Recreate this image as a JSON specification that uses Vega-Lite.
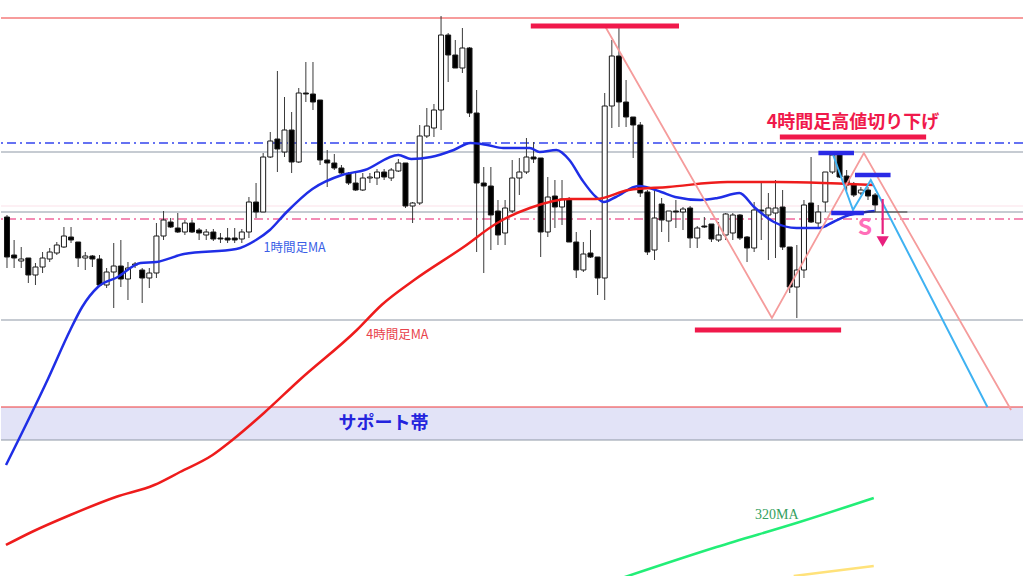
{
  "$schema": "https://vega.github.io/schema/vega-lite/v6.json",
  "width": 1024,
  "height": 576,
  "autosize": {"type": "fit", "contains": "padding"},
  "padding": 0,
  "background": "#ffffff",
  "config": {"view": {"stroke": null}},
  "datasets": {
    "band": [{"p1": 147.93, "p2": 147.60}],
    "hlines": [
      {"kind": "red", "p": 151.82},
      {"kind": "red", "p": 147.93},
      {"kind": "gray", "p": 150.48},
      {"kind": "gray", "p": 149.88},
      {"kind": "gray", "p": 148.80},
      {"kind": "gray", "p": 147.60},
      {"kind": "bluedash", "p": 150.57},
      {"kind": "pinkdash", "p": 149.81},
      {"kind": "faint", "p": 149.94}
    ],
    "candles": [
      {"i":0,"o":149.83,"h":149.85,"l":149.32,"c":149.43},
      {"i":1,"o":149.45,"h":149.60,"l":149.32,"c":149.42},
      {"i":2,"o":149.39,"h":149.53,"l":149.32,"c":149.41},
      {"i":3,"o":149.42,"h":149.42,"l":149.17,"c":149.25},
      {"i":4,"o":149.25,"h":149.37,"l":149.15,"c":149.33},
      {"i":5,"o":149.33,"h":149.48,"l":149.27,"c":149.42},
      {"i":6,"o":149.41,"h":149.52,"l":149.38,"c":149.48},
      {"i":7,"o":149.47,"h":149.58,"l":149.45,"c":149.55},
      {"i":8,"o":149.53,"h":149.73,"l":149.52,"c":149.64},
      {"i":9,"o":149.63,"h":149.73,"l":149.57,"c":149.60},
      {"i":10,"o":149.58,"h":149.58,"l":149.33,"c":149.42},
      {"i":11,"o":149.42,"h":149.48,"l":149.30,"c":149.44},
      {"i":12,"o":149.44,"h":149.45,"l":149.33,"c":149.41},
      {"i":13,"o":149.41,"h":149.45,"l":149.13,"c":149.15},
      {"i":14,"o":149.15,"h":149.32,"l":149.12,"c":149.28},
      {"i":15,"o":149.28,"h":149.57,"l":148.92,"c":149.34},
      {"i":16,"o":149.34,"h":149.60,"l":149.13,"c":149.21},
      {"i":17,"o":149.21,"h":149.38,"l":149.00,"c":149.32},
      {"i":18,"o":149.35,"h":149.38,"l":149.32,"c":149.36},
      {"i":19,"o":149.30,"h":149.32,"l":148.97,"c":149.22},
      {"i":20,"o":149.22,"h":149.32,"l":149.12,"c":149.27},
      {"i":21,"o":149.27,"h":149.77,"l":149.22,"c":149.64},
      {"i":22,"o":149.64,"h":149.89,"l":149.60,"c":149.80},
      {"i":23,"o":149.78,"h":149.82,"l":149.72,"c":149.73},
      {"i":24,"o":149.72,"h":149.87,"l":149.67,"c":149.68},
      {"i":25,"o":149.68,"h":149.80,"l":149.65,"c":149.77},
      {"i":26,"o":149.77,"h":149.80,"l":149.67,"c":149.68},
      {"i":27,"o":149.70,"h":149.72,"l":149.60,"c":149.67},
      {"i":28,"o":149.65,"h":149.71,"l":149.60,"c":149.68},
      {"i":29,"o":149.68,"h":149.71,"l":149.59,"c":149.61},
      {"i":30,"o":149.62,"h":149.67,"l":149.57,"c":149.61},
      {"i":31,"o":149.62,"h":149.72,"l":149.57,"c":149.60},
      {"i":32,"o":149.62,"h":149.72,"l":149.57,"c":149.60},
      {"i":33,"o":149.61,"h":149.71,"l":149.57,"c":149.68},
      {"i":34,"o":149.68,"h":150.03,"l":149.62,"c":149.98},
      {"i":35,"o":149.98,"h":150.17,"l":149.82,"c":149.88},
      {"i":36,"o":149.88,"h":150.47,"l":149.88,"c":150.43},
      {"i":37,"o":150.43,"h":150.68,"l":150.42,"c":150.59},
      {"i":38,"o":150.61,"h":151.29,"l":150.28,"c":150.51},
      {"i":39,"o":150.48,"h":151.03,"l":150.43,"c":150.70},
      {"i":40,"o":150.70,"h":150.88,"l":150.27,"c":150.38},
      {"i":41,"o":150.38,"h":151.12,"l":150.37,"c":151.07},
      {"i":42,"o":151.07,"h":151.38,"l":150.98,"c":151.06},
      {"i":43,"o":151.06,"h":151.38,"l":150.90,"c":150.98},
      {"i":44,"o":151.00,"h":151.00,"l":150.35,"c":150.40},
      {"i":45,"o":150.40,"h":150.50,"l":150.13,"c":150.37},
      {"i":46,"o":150.37,"h":150.46,"l":150.30,"c":150.32},
      {"i":47,"o":150.32,"h":150.35,"l":150.24,"c":150.27},
      {"i":48,"o":150.26,"h":150.28,"l":150.15,"c":150.17},
      {"i":49,"o":150.17,"h":150.27,"l":150.09,"c":150.10},
      {"i":50,"o":150.10,"h":150.27,"l":150.09,"c":150.22},
      {"i":51,"o":150.22,"h":150.27,"l":150.17,"c":150.23},
      {"i":52,"o":150.22,"h":150.31,"l":150.15,"c":150.28},
      {"i":53,"o":150.28,"h":150.31,"l":150.20,"c":150.23},
      {"i":54,"o":150.22,"h":150.32,"l":150.19,"c":150.30},
      {"i":55,"o":150.29,"h":150.41,"l":150.28,"c":150.37},
      {"i":56,"o":150.37,"h":150.37,"l":149.92,"c":149.94},
      {"i":57,"o":149.94,"h":149.98,"l":149.77,"c":149.97},
      {"i":58,"o":149.97,"h":150.75,"l":149.95,"c":150.64},
      {"i":59,"o":150.64,"h":150.92,"l":150.62,"c":150.74},
      {"i":60,"o":150.72,"h":150.96,"l":150.63,"c":150.90},
      {"i":61,"o":150.90,"h":151.84,"l":150.70,"c":151.65},
      {"i":62,"o":151.65,"h":151.67,"l":151.18,"c":151.45},
      {"i":63,"o":151.45,"h":151.60,"l":151.32,"c":151.32},
      {"i":64,"o":151.32,"h":151.72,"l":151.27,"c":151.52},
      {"i":65,"o":151.52,"h":151.53,"l":150.83,"c":150.87},
      {"i":66,"o":150.87,"h":151.10,"l":149.48,"c":150.17},
      {"i":67,"o":150.17,"h":150.33,"l":149.27,"c":150.14},
      {"i":68,"o":150.14,"h":150.33,"l":149.50,"c":149.85},
      {"i":69,"o":149.89,"h":150.00,"l":149.55,"c":149.65},
      {"i":70,"o":149.67,"h":150.00,"l":149.55,"c":149.92},
      {"i":71,"o":149.89,"h":150.40,"l":149.87,"c":150.22},
      {"i":72,"o":150.22,"h":150.42,"l":150.05,"c":150.28},
      {"i":73,"o":150.28,"h":150.62,"l":150.26,"c":150.43},
      {"i":74,"o":150.43,"h":150.58,"l":150.37,"c":150.41},
      {"i":75,"o":150.42,"h":150.42,"l":149.43,"c":149.68},
      {"i":76,"o":149.68,"h":150.23,"l":149.63,"c":150.03},
      {"i":77,"o":150.04,"h":150.20,"l":149.72,"c":149.93},
      {"i":78,"o":149.93,"h":150.20,"l":149.75,"c":150.01},
      {"i":79,"o":150.01,"h":150.03,"l":149.58,"c":149.58},
      {"i":80,"o":149.58,"h":149.68,"l":149.22,"c":149.30},
      {"i":81,"o":149.30,"h":149.58,"l":149.28,"c":149.46},
      {"i":82,"o":149.47,"h":149.70,"l":149.42,"c":149.43},
      {"i":83,"o":149.43,"h":149.43,"l":149.05,"c":149.22},
      {"i":84,"o":149.22,"h":151.07,"l":149.00,"c":150.94},
      {"i":85,"o":150.94,"h":151.60,"l":150.72,"c":151.44},
      {"i":86,"o":151.44,"h":151.73,"l":150.73,"c":150.98},
      {"i":87,"o":150.98,"h":151.20,"l":150.73,"c":150.83},
      {"i":88,"o":150.83,"h":150.83,"l":150.42,"c":150.75},
      {"i":89,"o":150.75,"h":150.78,"l":150.03,"c":150.07},
      {"i":90,"o":150.08,"h":150.10,"l":149.45,"c":149.48},
      {"i":91,"o":149.50,"h":150.12,"l":149.40,"c":149.82},
      {"i":92,"o":149.96,"h":150.02,"l":149.68,"c":149.80},
      {"i":93,"o":149.79,"h":149.89,"l":149.58,"c":149.89},
      {"i":94,"o":149.89,"h":150.00,"l":149.72,"c":149.88},
      {"i":95,"o":149.88,"h":149.93,"l":149.70,"c":149.91},
      {"i":96,"o":149.92,"h":149.94,"l":149.52,"c":149.62},
      {"i":97,"o":149.62,"h":149.74,"l":149.52,"c":149.72},
      {"i":98,"o":149.74,"h":149.83,"l":149.72,"c":149.73},
      {"i":99,"o":149.76,"h":149.76,"l":149.58,"c":149.61},
      {"i":100,"o":149.60,"h":149.78,"l":149.58,"c":149.65},
      {"i":101,"o":149.65,"h":149.87,"l":149.60,"c":149.86},
      {"i":102,"o":149.67,"h":149.87,"l":149.60,"c":149.85},
      {"i":103,"o":149.85,"h":149.86,"l":149.60,"c":149.62},
      {"i":104,"o":149.63,"h":149.64,"l":149.38,"c":149.52},
      {"i":105,"o":149.52,"h":149.98,"l":149.48,"c":149.90},
      {"i":106,"o":149.90,"h":150.17,"l":149.60,"c":149.89},
      {"i":107,"o":149.85,"h":150.07,"l":149.40,"c":149.92},
      {"i":108,"o":149.87,"h":150.20,"l":149.42,"c":149.92},
      {"i":109,"o":149.93,"h":150.10,"l":149.50,"c":149.53},
      {"i":110,"o":149.53,"h":149.53,"l":149.07,"c":149.13},
      {"i":111,"o":149.13,"h":149.55,"l":148.82,"c":149.30},
      {"i":112,"o":149.30,"h":150.00,"l":149.22,"c":149.95},
      {"i":113,"o":149.97,"h":150.43,"l":149.77,"c":149.78},
      {"i":114,"o":149.77,"h":149.95,"l":149.72,"c":149.88},
      {"i":115,"o":149.98,"h":150.28,"l":149.88,"c":150.28},
      {"i":116,"o":150.28,"h":150.48,"l":150.26,"c":150.45},
      {"i":117,"o":150.46,"h":150.48,"l":150.22,"c":150.23},
      {"i":118,"o":150.24,"h":150.30,"l":150.09,"c":150.15},
      {"i":119,"o":150.15,"h":150.18,"l":150.03,"c":150.05},
      {"i":120,"o":150.07,"h":150.13,"l":150.05,"c":150.10},
      {"i":121,"o":150.10,"h":150.13,"l":150.00,"c":150.04},
      {"i":122,"o":150.05,"h":150.07,"l":149.88,"c":149.95}
    ],
    "ma": [
      {"s":"h1","t":-0.14,"p":147.35},{"s":"h1","t":5.69,"p":148.20},{"s":"h1","t":8.89,"p":148.70},
      {"s":"h1","t":10.56,"p":148.93},{"s":"h1","t":12.78,"p":149.13},{"s":"h1","t":15.56,"p":149.23},
      {"s":"h1","t":18.75,"p":149.37},{"s":"h1","t":20.97,"p":149.38},{"s":"h1","t":24.86,"p":149.46},
      {"s":"h1","t":32.22,"p":149.51},{"s":"h1","t":35.0,"p":149.60},{"s":"h1","t":36.94,"p":149.70},
      {"s":"h1","t":39.17,"p":149.87},{"s":"h1","t":42.92,"p":150.11},{"s":"h1","t":47.08,"p":150.25},
      {"s":"h1","t":50.28,"p":150.30},{"s":"h1","t":55.0,"p":150.45},{"s":"h1","t":56.81,"p":150.41},
      {"s":"h1","t":59.58,"p":150.43},{"s":"h1","t":62.78,"p":150.50},{"s":"h1","t":65.14,"p":150.57},
      {"s":"h1","t":67.5,"p":150.55},{"s":"h1","t":69.72,"p":150.52},{"s":"h1","t":73.47,"p":150.52},
      {"s":"h1","t":74.86,"p":150.48},{"s":"h1","t":77.22,"p":150.50},{"s":"h1","t":79.03,"p":150.40},
      {"s":"h1","t":80.83,"p":150.20},{"s":"h1","t":82.78,"p":150.03},{"s":"h1","t":83.89,"p":149.98},
      {"s":"h1","t":85.56,"p":150.03},{"s":"h1","t":88.75,"p":150.14},{"s":"h1","t":91.94,"p":150.08},
      {"s":"h1","t":93.89,"p":150.03},{"s":"h1","t":97.5,"p":150.00},{"s":"h1","t":99.86,"p":150.02},
      {"s":"h1","t":102.92,"p":150.07},{"s":"h1","t":105.0,"p":149.93},{"s":"h1","t":107.78,"p":149.78},
      {"s":"h1","t":110.97,"p":149.72},{"s":"h1","t":114.17,"p":149.72},{"s":"h1","t":116.11,"p":149.78},
      {"s":"h1","t":118.33,"p":149.85},{"s":"h1","t":120.69,"p":149.88},{"s":"h1","t":121.94,"p":149.89},
      {"s":"h4","t":-0.14,"p":146.55},{"s":"h4","t":3.47,"p":146.68},{"s":"h4","t":8.89,"p":146.85},
      {"s":"h4","t":15.28,"p":147.03},{"s":"h4","t":20.69,"p":147.15},{"s":"h4","t":24.31,"p":147.28},
      {"s":"h4","t":28.89,"p":147.45},{"s":"h4","t":31.67,"p":147.60},{"s":"h4","t":36.11,"p":147.87},
      {"s":"h4","t":41.11,"p":148.20},{"s":"h4","t":49.17,"p":148.70},{"s":"h4","t":52.64,"p":148.95},
      {"s":"h4","t":57.22,"p":149.20},{"s":"h4","t":64.17,"p":149.53},{"s":"h4","t":68.89,"p":149.77},
      {"s":"h4","t":73.47,"p":149.92},{"s":"h4","t":79.03,"p":150.01},{"s":"h4","t":82.78,"p":150.01},
      {"s":"h4","t":87.36,"p":150.10},{"s":"h4","t":92.92,"p":150.13},{"s":"h4","t":101.25,"p":150.18},
      {"s":"h4","t":108.19,"p":150.18},{"s":"h4","t":114.72,"p":150.17},{"s":"h4","t":118.33,"p":150.16},
      {"s":"h4","t":121.81,"p":150.15},
      {"s":"m320","t":86.0,"p":146.21},{"s":"m320","t":99.72,"p":146.53},{"s":"m320","t":111.39,"p":146.78},
      {"s":"m320","t":121.81,"p":147.02},
      {"s":"yel","t":110.56,"p":146.24},{"s":"yel","t":121.81,"p":146.34}
    ],
    "zig": [
      {"kind":"pink","t":84.03,"p":151.74},{"kind":"pink","t":107.5,"p":148.82},
      {"kind":"pink","t":120.42,"p":150.47},{"kind":"pink","t":141.11,"p":147.90},
      {"kind":"cyan","t":116.11,"p":150.45},{"kind":"cyan","t":118.89,"p":149.90},
      {"kind":"cyan","t":121.39,"p":150.20},{"kind":"cyan","t":137.78,"p":147.93}
    ],
    "segs": [
      {"kind":"redbar","t":73.61,"t2":94.44,"p":151.74},
      {"kind":"redbar","t":96.67,"t2":117.22,"p":148.70},
      {"kind":"redbar","t":108.61,"t2":129.17,"p":150.63},
      {"kind":"bluebar","t":114.03,"t2":119.03,"p":150.47},
      {"kind":"bluebar","t":119.17,"t2":124.17,"p":150.25},
      {"kind":"bluebar","t":115.83,"t2":120.42,"p":149.87},
      {"kind":"dark","t":120.42,"t2":126.53,"p":149.88}
    ],
    "arrow": [{"t":123.06,"p":150.01,"p2":149.66,"tip":149.585}],
    "labels": [
      {"kind":"title","text":"4時間足高値切り下げ","t":118.89,"p":150.77},
      {"kind":"band","text":"サポート帯","t":52.92,"p":147.76},
      {"kind":"h1","text":"1時間足MA","t":40.42,"p":149.52},
      {"kind":"h4","text":"4時間足MA","t":54.86,"p":148.65},
      {"kind":"m320","text":"320MA","t":108.19,"p":146.85},
      {"kind":"s","text":"S","t":120.56,"p":149.72}
    ]
  },
  "layer": [
    {
      "data": {"name": "band"},
      "mark": {"type": "rect", "color": "#e2e3f7"},
      "encoding": {
        "y": {"field": "p1", "type": "quantitative", "scale": {"domain": [146.24, 152.0], "nice": false, "zero": false}, "axis": null},
        "y2": {"field": "p2"}
      }
    },
    {
      "data": {"name": "hlines"},
      "transform": [{"filter": "datum.kind == 'faint'"}],
      "mark": {"type": "rule", "color": "#fbe1e9", "strokeWidth": 1},
      "encoding": {"y": {"field": "p", "type": "quantitative", "scale": {"domain": [146.24, 152.0], "nice": false, "zero": false}, "axis": null}}
    },
    {
      "data": {"name": "hlines"},
      "transform": [{"filter": "datum.kind == 'gray'"}],
      "mark": {"type": "rule", "color": "#8d98a5", "strokeWidth": 1.2},
      "encoding": {"y": {"field": "p", "type": "quantitative", "scale": {"domain": [146.24, 152.0], "nice": false, "zero": false}, "axis": null}}
    },
    {
      "data": {"name": "hlines"},
      "transform": [{"filter": "datum.kind == 'bluedash'"}],
      "mark": {"type": "rule", "color": "#3344ee", "strokeWidth": 1.3, "strokeDash": [9, 4, 2, 4]},
      "encoding": {"y": {"field": "p", "type": "quantitative", "scale": {"domain": [146.24, 152.0], "nice": false, "zero": false}, "axis": null}}
    },
    {
      "data": {"name": "hlines"},
      "transform": [{"filter": "datum.kind == 'pinkdash'"}],
      "mark": {"type": "rule", "color": "#f0679d", "strokeWidth": 1.3, "strokeDash": [9, 4, 2, 4]},
      "encoding": {"y": {"field": "p", "type": "quantitative", "scale": {"domain": [146.24, 152.0], "nice": false, "zero": false}, "axis": null}}
    },
    {
      "data": {"name": "hlines"},
      "transform": [{"filter": "datum.kind == 'red'"}],
      "mark": {"type": "rule", "color": "#ef3b3b", "strokeWidth": 1.2},
      "encoding": {"y": {"field": "p", "type": "quantitative", "scale": {"domain": [146.24, 152.0], "nice": false, "zero": false}, "axis": null}}
    },
    {
      "data": {"name": "candles"},
      "mark": {"type": "rule", "color": "#3a3a3a", "strokeWidth": 1},
      "encoding": {
        "x": {"field": "i", "type": "quantitative", "scale": {"domain": [-0.14, 142.08], "nice": false, "zero": false}, "axis": null},
        "y": {"field": "l", "type": "quantitative", "scale": {"domain": [146.24, 152.0], "nice": false, "zero": false}, "axis": null},
        "y2": {"field": "h"}
      }
    },
    {
      "data": {"name": "candles"},
      "mark": {"type": "bar", "size": 5, "stroke": "#1a1a1a", "strokeWidth": 1},
      "encoding": {
        "x": {"field": "i", "type": "quantitative", "scale": {"domain": [-0.14, 142.08], "nice": false, "zero": false}, "axis": null},
        "y": {"field": "o", "type": "quantitative", "scale": {"domain": [146.24, 152.0], "nice": false, "zero": false}, "axis": null},
        "y2": {"field": "c"},
        "fill": {"condition": {"test": "datum.c > datum.o", "value": "#ffffff"}, "value": "#000000"}
      }
    },
    {
      "data": {"name": "ma"},
      "mark": {"type": "line", "strokeWidth": 2.5, "clip": true, "interpolate": "monotone"},
      "encoding": {
        "x": {"field": "t", "type": "quantitative", "scale": {"domain": [-0.14, 142.08], "nice": false, "zero": false}, "axis": null},
        "y": {"field": "p", "type": "quantitative", "scale": {"domain": [146.24, 152.0], "nice": false, "zero": false}, "axis": null},
        "color": {"field": "s", "type": "nominal", "scale": {"domain": ["h1", "h4", "m320", "yel"], "range": ["#1f2ee6", "#ee1c1c", "#22ee77", "#ffe27a"]}, "legend": null}
      }
    },
    {
      "data": {"name": "zig"},
      "transform": [{"filter": "datum.kind == 'pink'"}],
      "mark": {"type": "line", "color": "#f59c9c", "strokeWidth": 1.8, "clip": true},
      "encoding": {
        "x": {"field": "t", "type": "quantitative", "scale": {"domain": [-0.14, 142.08], "nice": false, "zero": false}, "axis": null},
        "y": {"field": "p", "type": "quantitative", "scale": {"domain": [146.24, 152.0], "nice": false, "zero": false}, "axis": null}
      }
    },
    {
      "data": {"name": "zig"},
      "transform": [{"filter": "datum.kind == 'cyan'"}],
      "mark": {"type": "line", "color": "#3fb2f2", "strokeWidth": 2, "clip": true},
      "encoding": {
        "x": {"field": "t", "type": "quantitative", "scale": {"domain": [-0.14, 142.08], "nice": false, "zero": false}, "axis": null},
        "y": {"field": "p", "type": "quantitative", "scale": {"domain": [146.24, 152.0], "nice": false, "zero": false}, "axis": null}
      }
    },
    {
      "data": {"name": "segs"},
      "transform": [{"filter": "datum.kind == 'redbar'"}],
      "mark": {"type": "rule", "color": "#f0194b", "strokeWidth": 5},
      "encoding": {
        "x": {"field": "t", "type": "quantitative", "scale": {"domain": [-0.14, 142.08], "nice": false, "zero": false}, "axis": null},
        "x2": {"field": "t2"},
        "y": {"field": "p", "type": "quantitative", "scale": {"domain": [146.24, 152.0], "nice": false, "zero": false}, "axis": null}
      }
    },
    {
      "data": {"name": "segs"},
      "transform": [{"filter": "datum.kind == 'bluebar'"}],
      "mark": {"type": "rule", "color": "#2a2ae6", "strokeWidth": 4.5},
      "encoding": {
        "x": {"field": "t", "type": "quantitative", "scale": {"domain": [-0.14, 142.08], "nice": false, "zero": false}, "axis": null},
        "x2": {"field": "t2"},
        "y": {"field": "p", "type": "quantitative", "scale": {"domain": [146.24, 152.0], "nice": false, "zero": false}, "axis": null}
      }
    },
    {
      "data": {"name": "segs"},
      "transform": [{"filter": "datum.kind == 'dark'"}],
      "mark": {"type": "rule", "color": "#333333", "strokeWidth": 1.2},
      "encoding": {
        "x": {"field": "t", "type": "quantitative", "scale": {"domain": [-0.14, 142.08], "nice": false, "zero": false}, "axis": null},
        "x2": {"field": "t2"},
        "y": {"field": "p", "type": "quantitative", "scale": {"domain": [146.24, 152.0], "nice": false, "zero": false}, "axis": null}
      }
    },
    {
      "data": {"name": "arrow"},
      "mark": {"type": "rule", "color": "#e8207e", "strokeWidth": 2.2},
      "encoding": {
        "x": {"field": "t", "type": "quantitative", "scale": {"domain": [-0.14, 142.08], "nice": false, "zero": false}, "axis": null},
        "y": {"field": "p", "type": "quantitative", "scale": {"domain": [146.24, 152.0], "nice": false, "zero": false}, "axis": null},
        "y2": {"field": "p2"}
      }
    },
    {
      "data": {"name": "arrow"},
      "mark": {"type": "point", "shape": "triangle-down", "filled": true, "color": "#e8207e", "size": 150, "opacity": 1},
      "encoding": {
        "x": {"field": "t", "type": "quantitative", "scale": {"domain": [-0.14, 142.08], "nice": false, "zero": false}, "axis": null},
        "y": {"field": "tip", "type": "quantitative", "scale": {"domain": [146.24, 152.0], "nice": false, "zero": false}, "axis": null}
      }
    },
    {
      "data": {"name": "labels"},
      "transform": [{"filter": "datum.kind == 'title'"}],
      "mark": {"type": "text", "font": "Noto Sans CJK JP", "fontWeight": "bold", "fontSize": 18, "color": "#f0194b", "align": "center", "baseline": "middle"},
      "encoding": {
        "x": {"field": "t", "type": "quantitative", "scale": {"domain": [-0.14, 142.08], "nice": false, "zero": false}, "axis": null},
        "y": {"field": "p", "type": "quantitative", "scale": {"domain": [146.24, 152.0], "nice": false, "zero": false}, "axis": null},
        "text": {"field": "text"}
      }
    },
    {
      "data": {"name": "labels"},
      "transform": [{"filter": "datum.kind == 'band'"}],
      "mark": {"type": "text", "font": "Noto Sans CJK JP", "fontWeight": "bold", "fontSize": 18, "color": "#2323dd", "align": "center", "baseline": "middle"},
      "encoding": {
        "x": {"field": "t", "type": "quantitative", "scale": {"domain": [-0.14, 142.08], "nice": false, "zero": false}, "axis": null},
        "y": {"field": "p", "type": "quantitative", "scale": {"domain": [146.24, 152.0], "nice": false, "zero": false}, "axis": null},
        "text": {"field": "text"}
      }
    },
    {
      "data": {"name": "labels"},
      "transform": [{"filter": "datum.kind == 'h1'"}],
      "mark": {"type": "text", "font": "Noto Sans CJK JP", "fontSize": 12.5, "color": "#3a5ee6", "align": "center", "baseline": "middle"},
      "encoding": {
        "x": {"field": "t", "type": "quantitative", "scale": {"domain": [-0.14, 142.08], "nice": false, "zero": false}, "axis": null},
        "y": {"field": "p", "type": "quantitative", "scale": {"domain": [146.24, 152.0], "nice": false, "zero": false}, "axis": null},
        "text": {"field": "text"}
      }
    },
    {
      "data": {"name": "labels"},
      "transform": [{"filter": "datum.kind == 'h4'"}],
      "mark": {"type": "text", "font": "Noto Sans CJK JP", "fontSize": 12.5, "color": "#e8434b", "align": "center", "baseline": "middle"},
      "encoding": {
        "x": {"field": "t", "type": "quantitative", "scale": {"domain": [-0.14, 142.08], "nice": false, "zero": false}, "axis": null},
        "y": {"field": "p", "type": "quantitative", "scale": {"domain": [146.24, 152.0], "nice": false, "zero": false}, "axis": null},
        "text": {"field": "text"}
      }
    },
    {
      "data": {"name": "labels"},
      "transform": [{"filter": "datum.kind == 'm320'"}],
      "mark": {"type": "text", "font": "Liberation Serif", "fontSize": 14, "color": "#34a060", "align": "center", "baseline": "middle"},
      "encoding": {
        "x": {"field": "t", "type": "quantitative", "scale": {"domain": [-0.14, 142.08], "nice": false, "zero": false}, "axis": null},
        "y": {"field": "p", "type": "quantitative", "scale": {"domain": [146.24, 152.0], "nice": false, "zero": false}, "axis": null},
        "text": {"field": "text"}
      }
    },
    {
      "data": {"name": "labels"},
      "transform": [{"filter": "datum.kind == 's'"}],
      "mark": {"type": "text", "font": "Noto Sans CJK JP", "fontWeight": "bold", "fontSize": 23, "color": "#ff6eb8", "align": "center", "baseline": "middle"},
      "encoding": {
        "x": {"field": "t", "type": "quantitative", "scale": {"domain": [-0.14, 142.08], "nice": false, "zero": false}, "axis": null},
        "y": {"field": "p", "type": "quantitative", "scale": {"domain": [146.24, 152.0], "nice": false, "zero": false}, "axis": null},
        "text": {"field": "text"}
      }
    }
  ]
}
